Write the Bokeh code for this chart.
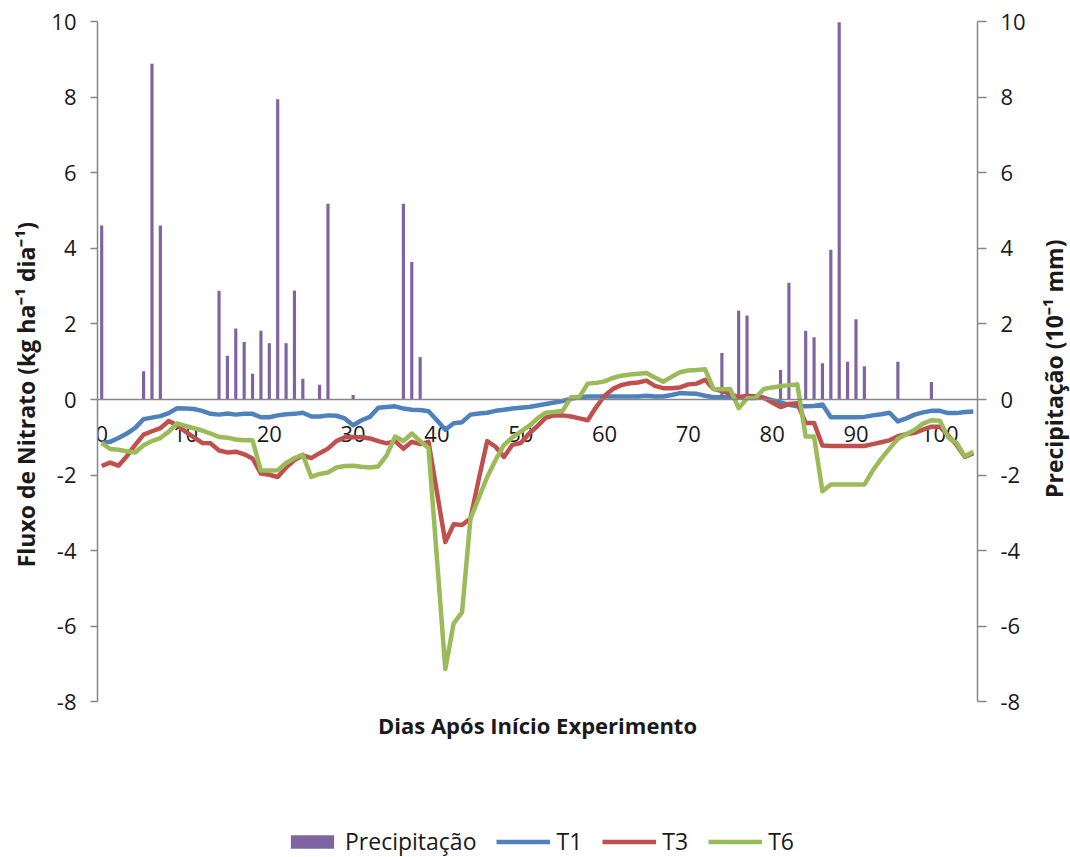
import math
from bokeh.plotting import figure
from bokeh.layouts import row
from bokeh.models import Range1d, LinearAxis, FixedTicker, Legend, LegendItem, Span, Label
from bokeh.core.properties import value
from bokeh.embed import file_html
from bokeh.resources import INLINE

# ---------------- data ----------------
days = list(range(0, 105))

t1 = [-1.15, -1.12, -1.02, -0.90, -0.75, -0.52, -0.48, -0.44, -0.36, -0.23,
      -0.24, -0.25, -0.30, -0.38, -0.40, -0.37, -0.40, -0.38, -0.38, -0.47,
      -0.47, -0.42, -0.39, -0.38, -0.35, -0.45, -0.45, -0.42, -0.43, -0.50,
      -0.68, -0.55, -0.46, -0.22, -0.20, -0.18, -0.24, -0.27, -0.28, -0.31,
      -0.55, -0.80, -0.63, -0.60, -0.40, -0.37, -0.35, -0.30, -0.27, -0.24,
      -0.22, -0.20, -0.16, -0.12, -0.08, -0.04, 0.02, 0.06, 0.08, 0.08,
      0.08, 0.08, 0.08, 0.08, 0.08, 0.10, 0.08, 0.08, 0.12, 0.17,
      0.16, 0.15, 0.10, 0.06, 0.06, 0.06, 0.06, 0.06, 0.08, 0.04,
      -0.02, -0.08, -0.14, -0.18, -0.18, -0.17, -0.13, -0.47, -0.47, -0.47,
      -0.47, -0.46, -0.42, -0.39, -0.35, -0.58, -0.50, -0.40, -0.34, -0.30,
      -0.30, -0.36, -0.36, -0.33, -0.32]

t3 = [-1.76, -1.67, -1.75, -1.50, -1.20, -0.93, -0.84, -0.76, -0.57, -0.68,
      -0.85, -1.00, -1.15, -1.16, -1.35, -1.40, -1.38, -1.45, -1.56, -1.96,
      -1.99, -2.05, -1.80, -1.60, -1.48, -1.55, -1.42, -1.30, -1.10, -1.00,
      -1.00, -1.00, -1.03, -1.10, -1.16, -1.10, -1.30, -1.12, -1.18, -1.12,
      -2.45, -3.77, -3.30, -3.32, -3.15, -2.10, -1.10, -1.25, -1.52, -1.20,
      -1.15, -0.90, -0.70, -0.48, -0.42, -0.42, -0.45, -0.50, -0.55, -0.20,
      0.10, 0.28, 0.38, 0.43, 0.45, 0.50, 0.36, 0.30, 0.30, 0.32,
      0.40, 0.42, 0.52, 0.28, 0.22, 0.15, 0.06, 0.10, 0.08, 0.05,
      -0.08, -0.20, -0.12, -0.10, -0.62, -0.62, -1.22, -1.23, -1.23, -1.23,
      -1.23, -1.23, -1.18, -1.13, -1.08, -0.97, -0.92, -0.88, -0.80, -0.72,
      -0.72, -0.95, -1.20, -1.52, -1.42]

t6 = [-1.15, -1.31, -1.33, -1.37, -1.40, -1.21, -1.10, -1.02, -0.85, -0.63,
      -0.70, -0.76, -0.82, -0.90, -0.99, -1.01, -1.06, -1.08, -1.08, -1.88,
      -1.88, -1.87, -1.68, -1.55, -1.46, -2.05, -1.97, -1.93, -1.80, -1.76,
      -1.75, -1.78, -1.80, -1.77, -1.48, -0.98, -1.10, -0.90, -1.10, -1.29,
      -4.20, -7.13, -5.92, -5.63, -3.15, -2.60, -2.05, -1.60, -1.20, -1.00,
      -0.85, -0.70, -0.50, -0.35, -0.33, -0.30, 0.06, 0.07, 0.42, 0.44,
      0.48, 0.57, 0.63, 0.66, 0.68, 0.70, 0.58, 0.47, 0.60, 0.72,
      0.77, 0.78, 0.80, 0.28, 0.27, 0.27, -0.23, 0.03, 0.04, 0.28,
      0.32, 0.35, 0.38, 0.40, -0.98, -0.98, -2.43, -2.25, -2.25, -2.25,
      -2.25, -2.25, -1.88, -1.57, -1.30, -1.04, -0.92, -0.80, -0.64, -0.55,
      -0.56, -1.00, -1.15, -1.50, -1.38]

precip_days = [0, 5, 6, 7, 14, 15, 16, 17, 18, 19, 20, 21, 22, 23, 24, 26, 27, 30,
               36, 37, 38, 74, 76, 77, 81, 82, 84, 85, 86, 87, 88, 89, 90, 91, 95, 99]
precip_vals = [4.60, 0.75, 8.88, 4.60, 2.88, 1.16, 1.88, 1.52, 0.68, 1.82, 1.49, 7.94,
               1.49, 2.88, 0.55, 0.39, 5.18, 0.12, 5.18, 3.64, 1.12, 1.23, 2.35, 2.22,
               0.78, 3.09, 1.82, 1.65, 0.96, 3.96, 9.98, 1.00, 2.12, 0.88, 1.00, 0.46]

y_ticks = [-8, -6, -4, -2, 0, 2, 4, 6, 8, 10]
y_tick_labels = ["-8", "-6", "-4", "-2", "0", "2", "4", "6", "8", "10"]
x_ticks = [0, 10, 20, 30, 40, 50, 60, 70, 80, 90, 100]
x_tick_labels = ["0", "10", "20", "30", "40", "50", "60", "70", "80", "90", "100"]

series_names = ["Precipitação", "T1", "T3", "T6"]
x_title = "Dias Após Início Experimento"
y_title = "Fluxo de Nitrato (kg ha\u207b\u00b9 dia\u207b\u00b9)"
y2_title = "Precipitação (10\u207b\u00b9 mm)"

# ---------------- style / layout ----------------
FONT = "Open Sans"
AX = "#868686"
TXT = "#1a1a1a"
C_P, C_T1, C_T3, C_T6 = "#8064A2", "#4F81BD", "#C0504D", "#9BBB59"
LW = 4.5
Y_TOP, Y_AX_MIN = 10, -8
PX_PER_UNIT = 37.8
FRAME_TOP, FIG_H = 21, 857
MAIN_W, SIDE_W = 1036, 34
Y_FRAME_MIN = Y_TOP - (FIG_H - FRAME_TOP) / PX_PER_UNIT   # frame runs to the page bottom
NB = "\u00a0"   # leading no-break spaces lift the rotated left title (centred on the frame)

p = figure(width=MAIN_W, height=FIG_H, output_backend="svg", toolbar_location=None,
           x_range=Range1d(-0.5, 104.5), y_range=Range1d(Y_FRAME_MIN, Y_TOP),
           x_axis_location=None,
           min_border_left=97, min_border_right=MAIN_W - 977, min_border_top=FRAME_TOP,
           min_border_bottom=0)
p.outline_line_color = None
p.xgrid.visible = False
p.ygrid.visible = False
p.background_fill_color = "white"
p.border_fill_color = "white"

p.extra_y_ranges = {"precip": Range1d(Y_FRAME_MIN, Y_TOP)}


def style_y(ax, tick_out):
    ax.bounds = (Y_AX_MIN, Y_TOP)
    ax.ticker = FixedTicker(ticks=y_ticks)
    ax.major_label_overrides = {t: l for t, l in zip(y_ticks, y_tick_labels)}
    ax.axis_line_color = AX
    ax.axis_line_width = 1.5
    ax.major_tick_line_color = AX
    ax.major_tick_line_width = 1.5
    ax.major_tick_out = tick_out
    ax.major_tick_in = 0
    ax.minor_tick_line_color = None
    ax.major_label_standoff = 14
    ax.major_label_text_font = FONT
    ax.major_label_text_font_size = "22px"
    ax.major_label_text_color = TXT
    ax.axis_label_text_font = FONT
    ax.axis_label_text_font_style = "bold"
    ax.axis_label_text_font_size = "23px"
    ax.axis_label_text_color = TXT


ya = p.yaxis[0]
style_y(ya, 7)
ya.axis_label = NB * 15 + y_title
ya.axis_label_standoff = 6

ya2 = LinearAxis(y_range_name="precip")
style_y(ya2, 9)
p.add_layout(ya2, "right")

# x axis line at zero and its tick labels
p.add_layout(Span(location=0, dimension="width", line_color=AX, line_width=1.5))
p.text(x=x_ticks, y=[0] * len(x_ticks), text=x_tick_labels,
       text_align="center", text_baseline="middle", y_offset=34,
       text_font=value(FONT), text_font_size=value("22px"), text_color=TXT)

# x axis title
p.add_layout(Label(x=52, y=-8.6, text=x_title, text_align="center",
                   text_baseline="middle", text_font=FONT, text_font_style="bold",
                   text_font_size="22px", text_color=TXT))

# ---------------- marks ----------------
r_p = p.vbar(x=precip_days, top=precip_vals, bottom=0, width=0.38,
             y_range_name="precip", fill_color=C_P, line_color=None)
r1 = p.line(days, t1, line_width=LW, line_color=C_T1, line_join="round")
r3 = p.line(days, t3, line_width=LW, line_color=C_T3, line_join="round")
r6 = p.line(days, t6, line_width=LW, line_color=C_T6, line_join="round")

# ---------------- legend ----------------
legend = Legend(items=[LegendItem(label=series_names[0], renderers=[r_p]),
                       LegendItem(label=series_names[1], renderers=[r1]),
                       LegendItem(label=series_names[2], renderers=[r3]),
                       LegendItem(label=series_names[3], renderers=[r6])],
                location=(188, 0), orientation="horizontal",
                glyph_width=54, glyph_height=17, label_standoff=6, spacing=20,
                padding=0, margin=0, border_line_color=None,
                background_fill_alpha=0,
                label_text_font=FONT, label_text_font_size="23px",
                label_text_color=TXT)
p.add_layout(legend)

# ---------------- right-axis title in a thin side strip ----------------
side = figure(width=SIDE_W, height=FIG_H, output_backend="svg", toolbar_location=None,
              x_range=Range1d(0, 1), y_range=Range1d(0, FIG_H),
              x_axis_location=None, y_axis_location=None, min_border=0)
side.outline_line_color = None
side.xgrid.visible = False
side.ygrid.visible = False
side.background_fill_color = "white"
side.border_fill_color = "white"
side.add_layout(Label(x=0.5, y=FIG_H - 356, text=y2_title, angle=math.pi / 2,
                      text_align="center", text_baseline="middle",
                      text_font=FONT, text_font_style="bold", text_font_size="23px",
                      text_color=TXT))

layout = row(p, side)
open("out.html", "w").write(file_html(layout, INLINE))
